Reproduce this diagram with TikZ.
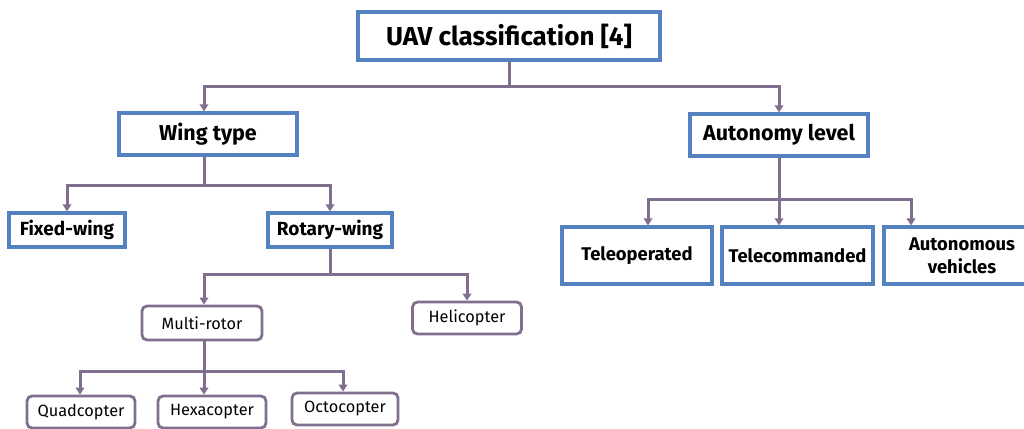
\documentclass[tikz,border=0pt]{standalone}
\usepackage{fontspec}
\setmainfont{Fira Sans}
\usetikzlibrary{arrows.meta}
\definecolor{boxblue}{RGB}{84,130,193}
\definecolor{linkpurple}{RGB}{128,111,143}
\tikzset{
  catbox/.style={draw=boxblue, line width=3.2pt, fill=white, inner sep=0pt,
    align=center, font=\bfseries},
  leafbox/.style={draw=linkpurple, line width=2.8pt, rounded corners=5pt,
    fill=white, inner sep=0pt, align=center, font=\fontsize{16.3}{19}\selectfont},
  link/.style={draw=linkpurple, line width=3pt,
    -{Triangle[length=7pt,width=8.5pt]}},
}
\begin{document}
\begin{tikzpicture}[x=1pt,y=-1pt]
\useasboundingbox (0,0) rectangle (1024,428);

% category boxes
\node[catbox, minimum width=302, minimum height=48, font=\bfseries\fontsize{26}{30}\selectfont]
  (uav) at (509,36) {UAV classification [4]};
\node[catbox, minimum width=178, minimum height=42, font=\bfseries\fontsize{21.5}{25}\selectfont]
  (wing) at (208,134) {Wing type};
\node[catbox, minimum width=178, minimum height=42, font=\bfseries\fontsize{21.5}{25}\selectfont]
  (auto) at (779,135) {Autonomy level};
\node[catbox, minimum width=116, minimum height=34, font=\bfseries\fontsize{19}{23}\selectfont]
  (fixed) at (67,230) {Fixed-wing};
\node[catbox, minimum width=124, minimum height=34, font=\bfseries\fontsize{19}{23}\selectfont]
  (rotary) at (330,230) {Rotary-wing};
\node[catbox, minimum width=150, minimum height=57, font=\bfseries\fontsize{18.4}{22}\selectfont]
  (teleop) at (637,255.5) {Teleoperated};
\node[catbox, minimum width=151, minimum height=57, font=\bfseries\fontsize{18.4}{22}\selectfont]
  (telecom) at (797.5,255.5) {Telecommanded};
\node[catbox, minimum width=156, minimum height=57, font=\bfseries\fontsize{18.4}{23}\selectfont]
  (autov) at (962,255.5) {Autonomous\\vehicles};

% leaf boxes
\node[leafbox, minimum width=120, minimum height=34] (multi) at (202,323) {Multi-rotor};
\node[leafbox, minimum width=109, minimum height=32] (heli) at (467,318) {Helicopter};
\node[leafbox, minimum width=108, minimum height=32] (quad) at (81,412) {Quadcopter};
\node[leafbox, minimum width=108, minimum height=32] (hexa) at (212,412) {Hexacopter};
\node[leafbox, minimum width=106, minimum height=32] (octo) at (345,409) {Octocopter};

% connectors
\draw[link] (uav.south) -- ++(0,25) -| ([xshift=-4]wing.north);
\draw[link] (uav.south) -- ++(0,25) -| (auto.north);

\draw[link] ([xshift=-4]wing.south) -- ++(0,29) -| (fixed.north);
\draw[link] ([xshift=-4]wing.south) -- ++(0,29) -| (rotary.north);

\draw[link] (rotary.south) -- ++(0,26) -| ([xshift=2]multi.north);
\draw[link] (rotary.south) -- ++(0,26) -| (heli.north);

\draw[link] ([xshift=2]multi.south) -- ++(0,30) -| ([xshift=-1]quad.north);
\draw[link] ([xshift=2]multi.south) -- ([xshift=2]multi.south |- hexa.north);
\draw[link] ([xshift=2]multi.south) -- ++(0,30) -| ([xshift=-2]octo.north);

\draw[link] (auto.south) -- ++(0,42) -| ([xshift=11]teleop.north);
\draw[link] (auto.south) -- (auto.south |- telecom.north);
\draw[link] (auto.south) -- ++(0,42) -| ([xshift=-51]autov.north);
\end{tikzpicture}
\end{document}
